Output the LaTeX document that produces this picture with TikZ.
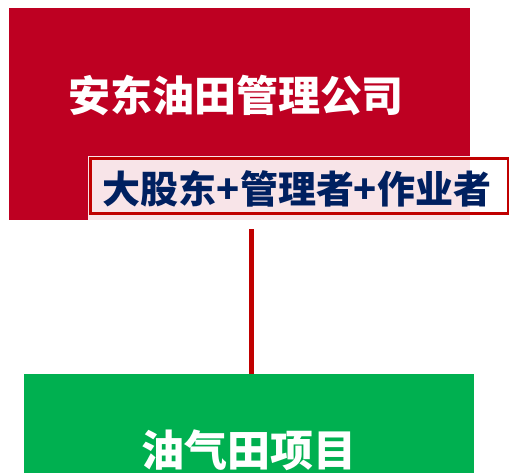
\documentclass[tikz,border=0pt]{standalone}
\usepackage{fontspec}
\newfontfamily\cjk{Noto Sans CJK SC}
\definecolor{rougeboite}{RGB}{190,0,34}
\definecolor{rougetrait}{RGB}{192,0,0}
\definecolor{rose}{RGB}{248,228,232}
\definecolor{vert}{RGB}{0,176,80}
\definecolor{marine}{RGB}{0,32,96}

\begin{document}
\begin{tikzpicture}[x=1pt,y=-1pt,
  boite/.style={inner sep=0pt,anchor=north west},
  titre/.style={font=\cjk\bfseries\fontsize{#1}{#1}\selectfont}]
\useasboundingbox (0,0) rectangle (509,472);

% Cadre du haut
\node[boite,fill=rougeboite,minimum width=461pt,minimum height=212pt] (societe) at (9,8) {};
\node[titre=42,text=white] (nom) at (236,95) {安东油田管理公司};

% Etiquette
\fill[rose] (88,156) rectangle (470,220);
\node[draw=rougetrait,line width=3pt,inner sep=0pt,minimum width=418pt,minimum height=55pt]
  (cadre) at (299,185.5) {};
\node[titre=38,text=marine] (role) at (297,189) {大股东+管理者+作业者};

% Cadre du bas
\node[boite,fill=vert,minimum width=450pt,minimum height=152pt,titre=43,text=white]
  (projet) at (24,374) {油气田项目};

% Lien
\coordinate (lien) at (251,229);
\draw[rougetrait,line width=5pt] (lien) -- (lien |- projet.north);
\end{tikzpicture}
\end{document}
